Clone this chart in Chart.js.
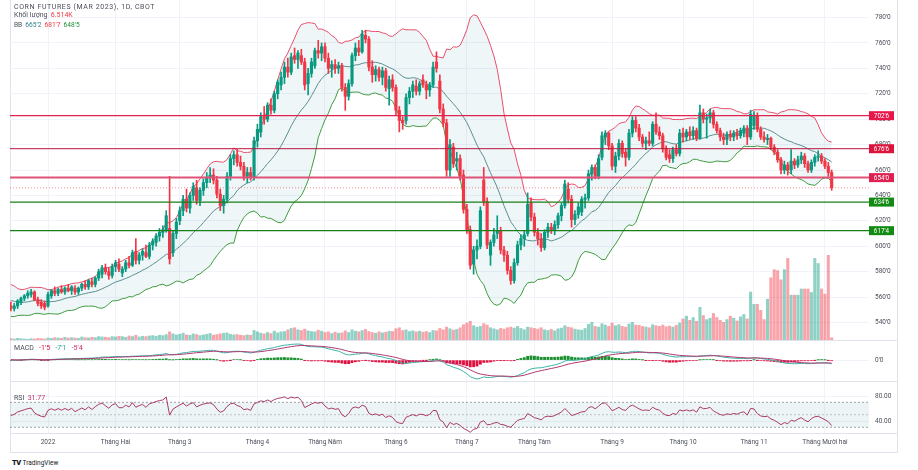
<!DOCTYPE html>
<html>
<head>
<meta charset="utf-8">
<script src="https://cdn.jsdelivr.net/npm/chart.js@4.4.1/dist/chart.umd.min.js"></script>
<style>
  body { margin: 0; background: #fff; width: 918px; height: 470px; overflow: hidden; position: relative; font-family: Roboto, "Liberation Sans", sans-serif; }
  canvas { position: absolute; left: 10px; }
  .frame { position: absolute; left: 10px; top: 0; width: 888px; height: 453px; border: 1px solid #e0e3eb; border-top: none; box-sizing: border-box; }
  .sep { position: absolute; left: 10px; width: 888px; height: 1px; background: #e0e3eb; }
  .lg { position: absolute; left: 14px; font-size: 7px; line-height: 8px; color: #4a4e5a; white-space: nowrap; z-index: 5; }
  .lg span { margin-left: 1.5px; }
  .logo { position: absolute; left: 12px; top: 458px; font-size: 6.5px; color: #131722; white-space: nowrap; }
  .logo b { font-weight: 900; font-size: 7.5px; letter-spacing: -0.6px; margin-right: 2px; }
</style>
</head>
<body>
<div class="frame"></div>
<canvas id="price" width="888" height="340" style="top:0"></canvas>
<canvas id="macd" width="888" height="40" style="top:341px"></canvas>
<canvas id="rsi" width="888" height="70" style="top:382px"></canvas>
<div class="sep" style="top:340px"></div>
<div class="sep" style="top:381px"></div>
<div class="sep" style="top:433px"></div>

<div class="lg" style="top:2.5px; letter-spacing:0.6px">CORN FUTURES (MAR 2023), 1D, CBOT</div>
<div class="lg" style="top:11px">Khối lượng <span style="color:#f23645">6.514K</span></div>
<div class="lg" style="top:21px; font-size:6.6px">BB <span style="color:#2f7f8a">665'2</span> <span style="color:#f23645">681'7</span> <span style="color:#1e8f3a">648'5</span></div>
<div class="lg" style="top:343.5px; word-spacing:2px">MACD <span style="color:#e0103f">-1'5</span> <span style="color:#26a69a">-7'1</span> <span style="color:#c2306a">-5'4</span></div>
<div class="lg" style="top:393.5px">RSI <span style="color:#c2306a">31.77</span></div>
<div class="logo"><b>TV</b>TradingView</div>

<script>
// ===============================
// Data (Dec 16 2021 -> Dec 5 2022, daily)
// ===============================
// closes before the first visible bar, only used to warm up BB / MACD / RSI
const warmCloses = [545,549,553,557,560,562,558,555,552,556,561,566,569,564,560,556,551,549,553,558,563,567,564,559,554,550,548,552,557,555];

const opens = [
  553,551,553,556,559,561,562,564,558,556,555,
  553,561,565,563,566,564,567,565,567,564,567,570,568,572,570,575,578,583,580,577,
  584,586,579,582,587,585,596,589,593,595,592,601,603,608,611,613,614,595,610,
  620,628,637,630,640,646,636,644,650,654,656,652,641,632,637,655,669,672,666,663,655,658,654,
  683,690,702,700,711,707,720,727,733,741,737,750,747,750,745,728,736,742,754,752,
  757,748,740,743,740,742,725,718,728,750,756,753,766,763,741,735,739,733,738,724,731,
  725,707,699,699,717,722,726,722,731,727,723,727,745,730,708,697,660,678,667,669,656,
  629,613,586,597,600,652,635,593,603,610,612,597,593,581,573,587,601,606,610,634,
  623,611,606,599,611,615,613,617,624,632,645,637,621,625,627,637,638,657,662,655,670,686,689,
  679,663,671,681,674,670,689,699,693,686,681,683,681,696,690,687,677,672,669,676,673,
  689,686,690,687,691,685,705,700,701,705,696,691,686,684,688,686,689,687,689,693,686,
  695,703,692,686,684,685,678,674,668,660,664,660,667,664,668,671,665,660,666,670,671,
  667,663,658
];
const highs = [
  556,555,558,560,562,565,566,565,560,558,557,
  564,566,568,567,569,568,570,569,569,568,571,573,574,575,576,582,585,586,583,586,
  589,590,584,589,592,597,606,595,598,601,603,606,610,614,616,628,655,612,622,
  631,640,645,642,650,652,646,653,658,662,661,655,645,640,658,672,675,676,671,666,662,662,686,
  696,705,710,713,716,722,731,737,745,748,752,756,754,755,748,740,748,756,762,760,
  760,752,746,747,745,744,728,731,752,760,762,770,770,765,746,742,741,741,740,734,735,
  727,710,702,720,725,730,731,730,735,730,729,745,753,735,712,700,684,681,674,672,660,
  633,616,600,605,631,662,638,605,614,624,615,600,596,584,590,604,609,612,642,638,
  626,614,610,613,618,618,620,626,634,652,650,640,628,634,639,641,660,664,664,672,690,691,690,
  681,674,684,683,677,692,702,702,696,688,686,690,698,705,694,689,679,676,678,680,692,
  693,692,694,694,693,711,708,704,708,707,698,693,689,690,691,691,692,693,695,695,707,
  706,705,694,690,688,686,680,676,670,667,666,676,669,671,674,673,667,668,672,675,673,
  669,666,660
];
const lows = [
  549,549,551,554,557,559,560,557,553,551,550,
  552,559,561,561,563,562,564,562,562,562,565,566,566,568,568,573,575,578,574,575,
  580,580,576,580,583,584,586,586,589,591,590,597,600,604,607,611,586,592,606,
  617,624,627,626,636,633,632,640,646,650,649,638,628,626,634,652,664,663,660,652,650,652,652,
  678,686,696,698,704,705,716,723,728,733,735,744,740,743,723,719,733,740,748,746,
  745,736,733,736,736,722,707,715,726,746,750,752,760,738,729,730,730,727,722,711,722,
  703,690,692,696,712,717,719,719,725,716,718,725,737,705,694,655,655,662,660,652,626,
  610,582,578,590,598,632,598,585,600,606,594,588,578,570,571,585,597,600,608,620,
  608,601,596,597,607,610,609,614,620,630,634,615,617,622,624,630,636,652,653,653,668,680,676,
  660,658,668,670,663,668,686,690,683,678,676,679,679,688,684,674,668,666,666,671,671,
  682,683,684,684,683,684,697,685,697,693,689,683,680,680,683,683,684,685,686,680,684,
  692,690,684,682,680,676,672,666,657,657,656,657,661,662,665,662,658,658,663,667,665,
  661,655,644
];
const closes = [
  551,553,557,559,561,563,564,558,555,553,552,
  562,565,563,566,564,567,565,568,564,567,570,568,573,570,575,580,583,580,577,584,
  587,582,582,587,585,595,589,593,596,592,601,604,608,611,613,624,590,610,619,
  628,637,630,640,647,636,644,650,654,656,652,641,632,637,655,669,672,666,663,655,658,654,683,
  692,702,700,711,707,720,729,733,741,737,749,747,752,745,727,736,745,754,752,757,
  748,740,743,740,742,725,718,728,750,756,753,767,763,741,735,739,733,738,725,731,725,
  707,699,697,717,722,727,722,728,727,723,727,741,740,708,697,660,680,665,669,655,629,
  613,585,597,600,628,635,601,603,609,612,597,593,581,573,587,601,606,609,633,623,
  611,606,599,611,615,613,617,624,632,649,637,621,625,631,637,638,657,662,655,669,687,689,679,
  663,671,681,673,670,689,699,693,686,681,683,681,696,690,687,677,670,669,676,673,689,
  686,690,687,691,685,705,700,701,705,696,691,686,684,688,686,689,687,691,693,686,704,
  703,692,686,684,685,678,674,668,660,664,660,667,664,668,671,665,660,666,670,671,667,
  663,658,646
];
// volume in thousands of contracts
const volumes = [
  4,3,5,4,3,2,4,3,5,4,3,
  6,5,7,6,5,8,6,7,6,5,9,7,6,8,7,10,9,8,7,10,
  9,11,10,8,12,10,14,9,11,10,12,13,11,14,13,16,24,18,15,
  17,20,15,14,18,16,13,15,17,19,14,16,18,20,21,17,15,16,14,13,15,14,28,
  24,20,18,22,19,26,21,24,25,30,34,36,30,28,32,27,25,24,29,26,
  22,24,19,23,20,21,27,22,30,26,24,28,31,25,22,20,24,21,23,26,25,
  33,36,28,30,25,27,24,26,23,25,22,28,27,34,30,38,33,29,31,36,45,
  50,55,42,38,40,48,44,36,33,30,34,32,36,38,35,40,34,30,38,36,
  34,32,36,30,28,31,27,33,35,42,38,36,32,30,29,34,46,52,40,38,48,44,40,
  50,42,45,40,38,47,52,44,43,40,38,36,45,42,40,44,39,41,38,43,50,
  62,70,58,66,55,96,72,60,64,78,66,58,52,60,70,64,56,68,75,62,141,
  105,105,87,60,120,183,207,204,177,207,240,132,132,132,150,150,150,140,240,225,150,
  135,249,6.514
];

// time axis: bar index of the first session of each month
const monthIdx = [11, 31, 50, 73, 93, 114, 135, 155, 178, 199, 220, 241];
const monthLabels = ['2022', 'Tháng Hai', 'Tháng 3', 'Tháng 4', 'Tháng Năm', 'Tháng 6', 'Tháng 7', 'Tháng Tám', 'Tháng 9', 'Tháng 10', 'Tháng 11', 'Tháng Mười hai'];
const priceTicks = [540, 560, 580, 600, 620, 640, 660, 680, 700, 720, 740, 760, 780];
const rsiTicks = [80, 40];

// horizontal levels drawn on the chart (last one sits a bit below its tag value in the picture)
const levels = [702.75, 676.75, 654, 634.75, 612.25];
const levelLabels = ["702'6", "676'6", "654'0", "634'6", "617'4"];

// ===============================
// Styling
// ===============================
const UP = '#089981', DOWN = '#f23645';
const levelLine = ['#e0224f', '#b8143f', '#e05277', '#1a7f1a', '#1a7f1a'];
const levelTag = ['#e8174a', '#dc143c', '#e02050', '#138a13', '#138a13'];
const levelWidth = [1.2, 1, 2, 1.2, 1.2];
const X_MIN = -0.25, X_MAX = 254.05;
const PRICE_MIN = 526.2, PRICE_MAX = 793.8;
const GRID = '#f0f3fa';

Chart.defaults.font.family = 'Roboto';
Chart.defaults.font.size = 6.5;
Chart.defaults.color = '#4a4e5a';
Chart.defaults.animation = false;
Chart.defaults.plugins.legend.display = false;
Chart.defaults.plugins.tooltip.enabled = false;

// ===============================
// Indicators (BB 20/2, MACD 12/26/9, RSI 14)
// ===============================
const allCloses = warmCloses.concat(closes);
const off = warmCloses.length;

function bollinger(src, n, k) {
    const mid = [], up = [], lo = [];
    for (let i = 0; i < src.length; i++) {
        if (i < n - 1) { mid.push(null); up.push(null); lo.push(null); continue; }
        const w = src.slice(i - n + 1, i + 1);
        const m = w.reduce((a, b) => a + b, 0) / n;
        const sd = Math.sqrt(w.reduce((a, b) => a + (b - m) * (b - m), 0) / n);
        mid.push(m); up.push(m + k * sd); lo.push(m - k * sd);
    }
    return { mid, up, lo };
}

function ema(src, n) {
    const a = 2 / (n + 1), out = [];
    src.forEach((v, i) => out.push(i === 0 ? v : v * a + out[i - 1] * (1 - a)));
    return out;
}

function rsi(src, n) {
    const out = [null];
    let ag = 0, al = 0;
    for (let i = 1; i < src.length; i++) {
        const d = src[i] - src[i - 1];
        const g = Math.max(d, 0), l = Math.max(-d, 0);
        if (i <= n) {
            ag += g / n; al += l / n;
            out.push(i === n ? 100 - 100 / (1 + ag / al) : null);
        } else {
            ag = (ag * (n - 1) + g) / n;
            al = (al * (n - 1) + l) / n;
            out.push(al === 0 ? 100 : 100 - 100 / (1 + ag / al));
        }
    }
    return out;
}

const bb = bollinger(allCloses, 20, 2);
const ema12 = ema(allCloses, 12), ema26 = ema(allCloses, 26);
const macdLine = ema12.map((v, i) => v - ema26[i]);
const signalLine = ema(macdLine, 9);
const histLine = macdLine.map((v, i) => v - signalLine[i]);
const rsiLine = rsi(allCloses, 14);

const pts = arr => closes.map((_, i) => ({ x: i, y: arr[i + off] }));
const span = v => [{ x: X_MIN, y: v }, { x: X_MAX, y: v }];

function fmtPrice(v) {
    const whole = Math.floor(v);
    return whole + "'" + Math.round((v - whole) * 8);
}

// ===============================
// Shared axes
// ===============================
function timeAxis(withLabels) {
    return {
        type: 'linear', min: X_MIN, max: X_MAX, offset: false,
        afterBuildTicks: s => { s.ticks = monthIdx.map(v => ({ value: v })); },
        grid: { color: GRID, drawTicks: false, offset: false },
        border: { display: false },
        ticks: {
            display: withLabels, autoSkip: false, maxRotation: 0, minRotation: 0, padding: 5,
            color: '#4a4e5a', font: { size: 6.5 },
            callback: v => monthLabels[monthIdx.indexOf(v)]
        },
        afterFit: s => { s.height = withLabels ? 19 : 0; s.paddingLeft = 0; s.paddingRight = 0; }
    };
}

function valueAxis(min, max, tickVals, fmt) {
    return {
        position: 'right', min, max,
        afterBuildTicks: s => { s.ticks = tickVals.map(v => ({ value: v })); },
        grid: { color: GRID, drawTicks: false },
        border: { display: false },
        ticks: { padding: 6, color: '#4a4e5a', font: { size: 6.5 }, callback: fmt },
        afterFit: s => { s.width = 29; s.paddingTop = 0; s.paddingBottom = 0; }
    };
}

const baseOptions = { responsive: false, maintainAspectRatio: false, layout: { padding: 0 } };

// price tags for the horizontal levels on the price scale
const levelTags = {
    id: 'levelTags',
    afterDraw(chart) {
        const { ctx, chartArea, scales } = chart;
        ctx.save();
        levels.forEach((v, k) => {
            const py = scales.y.getPixelForValue(v);
            ctx.fillStyle = levelTag[k];
            ctx.fillRect(chartArea.right, py - 4.5, 25, 9);
            ctx.fillStyle = '#fff';
            ctx.font = '6.3px Roboto';
            ctx.textAlign = 'center';
            ctx.textBaseline = 'middle';
            ctx.fillText(levelLabels[k], chartArea.right + 12.5, py + 0.5);
        });
        ctx.restore();
    }
};

// ===============================
// Price pane: candles + BB + volume + levels
// ===============================
const isUp = closes.map((c, i) => c >= opens[i]);
const candleColors = isUp.map(u => (u ? UP : DOWN));
const volColors = isUp.map(u => (u ? 'rgba(8,153,129,0.45)' : 'rgba(242,54,69,0.45)'));

const priceDatasets = [
    { type: 'line', data: pts(bb.up), borderColor: '#e8506b', borderWidth: 1, pointRadius: 0,
      fill: '+2', backgroundColor: 'rgba(20,120,130,0.065)', order: 6 },
    { type: 'line', data: pts(bb.mid), borderColor: '#5a8f92', borderWidth: 1, pointRadius: 0, fill: false, order: 5 },
    { type: 'line', data: pts(bb.lo), borderColor: '#3f9b3f', borderWidth: 1, pointRadius: 0, fill: false, order: 5 },
    { type: 'bar', yAxisID: 'vol', data: volumes.map((v, i) => ({ x: i, y: v })),
      backgroundColor: volColors, barThickness: 2.4, grouped: false, order: 7 },
    { type: 'bar', data: closes.map((c, i) => ({ x: i, y: [lows[i], highs[i]] })),
      backgroundColor: candleColors, barThickness: 1, grouped: false, order: 1 },
    { type: 'bar', data: closes.map((c, i) => ({ x: i, y: [opens[i], c] })),
      backgroundColor: candleColors, barThickness: 2.5, minBarLength: 1, grouped: false, order: 0 },
    { type: 'line', data: span(closes[closes.length - 1]), borderColor: 'rgba(242,54,69,0.55)',
      borderWidth: 1, borderDash: [1, 2], pointRadius: 0, fill: false, order: 2 }
];
levels.forEach((v, k) => {
    priceDatasets.push({ type: 'line', data: span(v), borderColor: levelLine[k], borderWidth: levelWidth[k],
        pointRadius: 0, fill: false, order: -1 });
});

new Chart(document.getElementById('price'), {
    type: 'bar',
    data: { datasets: priceDatasets },
    options: {
        ...baseOptions,
        scales: {
            x: timeAxis(false),
            y: valueAxis(PRICE_MIN, PRICE_MAX, priceTicks, v => fmtPrice(v)),
            vol: { display: false, min: 0, max: 1000 }
        }
    },
    plugins: [levelTags]
});

// ===============================
// MACD pane
// ===============================
const macdVis = macdLine.slice(off), sigVis = signalLine.slice(off), histVis = histLine.slice(off);
const mHi = Math.max(...macdVis, ...sigVis, ...histVis);
const mLo = Math.min(...macdVis, ...sigVis, ...histVis);
const mRange = (mHi - mLo) / (1 - 5 / 40);

new Chart(document.getElementById('macd'), {
    type: 'bar',
    data: {
        datasets: [
            { type: 'bar', data: pts(histLine), barThickness: 2.2, grouped: false, order: 2,
              backgroundColor: histVis.map(h => (h >= 0 ? '#1a8f2e' : '#e0103f')) },
            { type: 'line', data: pts(macdLine), borderColor: '#3bb3a8', borderWidth: 1, pointRadius: 0, order: 1 },
            { type: 'line', data: pts(signalLine), borderColor: '#b0386e', borderWidth: 1, pointRadius: 0, order: 0 }
        ]
    },
    options: {
        ...baseOptions,
        scales: {
            x: timeAxis(false),
            y: valueAxis(mLo - mRange * 2 / 40, mHi + mRange * 3 / 40, [0], v => fmtPrice(v))
        }
    }
});

// ===============================
// RSI pane (with time axis)
// ===============================
new Chart(document.getElementById('rsi'), {
    type: 'line',
    data: {
        datasets: [
            { data: span(70), borderColor: '#8a8d96', borderWidth: 0.8, borderDash: [2, 2], pointRadius: 0,
              fill: '+1', backgroundColor: 'rgba(20,120,130,0.08)', order: 3 },
            { data: span(30), borderColor: '#8a8d96', borderWidth: 0.8, borderDash: [2, 2], pointRadius: 0, fill: false, order: 3 },
            { data: span(50), borderColor: '#b2b5be', borderWidth: 0.8, borderDash: [2, 2], pointRadius: 0, fill: false, order: 2 },
            { data: pts(rsiLine), borderColor: '#a83a66', borderWidth: 1, pointRadius: 0, fill: false, order: 0 }
        ]
    },
    options: {
        ...baseOptions,
        scales: {
            x: timeAxis(true),
            y: valueAxis(20.8, 102.4, rsiTicks, v => v.toFixed(2))
        }
    }
});
</script>
</body>
</html>
